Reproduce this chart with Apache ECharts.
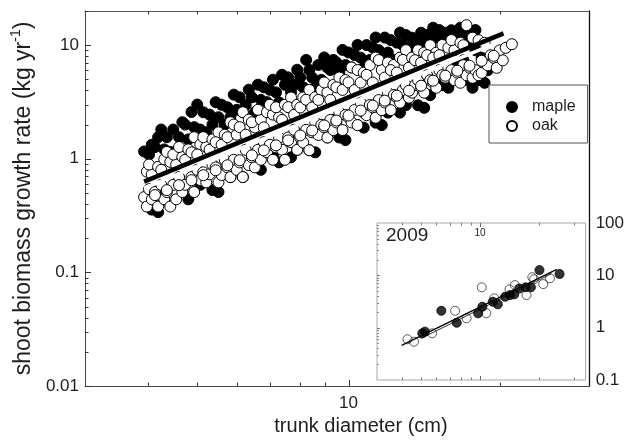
<!DOCTYPE html>
<html><head><meta charset="utf-8">
<script src="https://cdn.jsdelivr.net/npm/echarts@6/dist/echarts.min.js"></script>
<style>html,body{margin:0;padding:0;background:#fff}#c{width:627px;height:448px}</style>
</head><body><div id="c"></div>
<script>
// ---------- main panel data (trunk diameter cm, shoot biomass growth kg/yr) ----------
const mapleX = [3.93,4.02,4.07,4.07,4.13,4.19,4.19,4.25,4.31,4.31,4.36,4.43,4.49,4.61,4.68,4.74,4.81,4.81,4.88,4.94,5.01,5.08,5.08,5.15,5.22,5.30,5.37,5.37,5.45,5.52,5.52,5.60,5.68,5.75,5.83,5.83,5.92,6.00,6.08,6.17,6.17,6.25,6.34,6.43,6.52,6.52,6.61,6.70,6.70,6.79,6.89,6.98,7.08,7.08,7.18,7.28,7.28,7.38,7.48,7.59,7.69,7.69,7.80,7.91,7.91,8.02,8.13,8.24,8.36,8.36,8.47,8.59,8.59,8.71,8.83,8.95,9.08,9.08,9.20,9.33,9.33,9.46,9.59,9.59,9.73,9.86,9.86,10.0,10.14,10.28,10.42,10.42,10.57,10.72,10.72,10.86,11.02,11.17,11.32,11.32,11.48,11.64,11.64,11.80,11.97,11.97,12.13,12.30,12.47,12.65,12.65,12.82,13.00,13.00,13.18,13.37,13.55,13.74,13.74,13.93,14.13,14.13,14.32,14.52,14.52,14.72,14.93,15.14,15.35,15.35,15.56,15.78,15.78,16.00,16.22,16.22,16.44,16.67,16.67,16.90,17.14,17.14,16.90,17.38,17.62,17.62,17.86,17.86,18.11,18.37,18.62,18.88];
const mapleY = [1.16,1.09,1.33,0.357,1.27,1.55,0.339,1.81,1.21,0.437,1.55,1.15,1.81,1.55,2.10,2.00,1.48,0.44,2.58,1.90,3.0,1.81,0.59,2.57,1.71,2.45,2.00,0.53,3.15,2.32,0.51,2.99,2.0,2.84,2.33,0.69,3.67,2.70,3.48,2.57,0.69,2.98,4.06,3.48,2.57,0.93,4.49,3.30,0.80,4.26,3.15,4.05,4.97,1.08,3.84,3.14,0.93,5.49,4.48,5.21,3.85,1.03,4.47,6.08,1.20,5.21,4.26,7.42,6.06,1.19,5.19,4.25,1.14,6.70,4.95,7.81,6.37,1.54,6.05,7.42,2.20,7.05,5.76,1.54,9.09,6.69,1.46,8.63,6.37,8.19,10.05,1.98,7.77,6.35,1.88,10.03,7.41,9.53,11.69,2.08,9.04,7.40,1.98,11.67,8.62,2.55,11.09,7.39,10.53,12.91,2.55,10.03,12.27,2.97,9.51,11.63,11.09,9.04,2.96,12.87,10.52,2.81,12.27,9.07,3.63,14.24,11.64,13.58,11.07,4.44,12.89,10.56,4.22,13.55,12.25,6.66,11.68,14.26,5.17,13.55,11.07,4.92,7.37,12.93,10.52,4.22,13.6,9.03,4.91,7.75,4.66,6.01];
const oakX = [3.98,3.93,3.98,4.07,4.02,4.02,4.07,4.19,4.13,4.19,4.31,4.25,4.25,4.31,4.43,4.36,4.36,4.43,4.55,4.49,4.49,4.55,4.68,4.61,4.61,4.68,4.81,4.74,4.74,4.94,4.88,4.88,4.94,5.08,5.01,5.01,5.08,5.22,5.15,5.15,5.22,5.37,5.30,5.30,5.37,5.52,5.45,5.45,5.52,5.68,5.60,5.60,5.68,5.83,5.75,5.75,5.83,6.00,5.92,5.92,6.00,6.17,6.08,6.08,6.17,6.34,6.25,6.25,6.34,6.52,6.43,6.43,6.52,6.70,6.61,6.61,6.70,6.89,6.79,6.79,6.89,7.08,6.98,6.98,7.08,7.28,7.18,7.18,7.28,7.48,7.38,7.38,7.48,7.69,7.59,7.59,7.69,7.91,7.80,7.80,7.91,8.13,8.02,8.02,8.13,8.36,8.24,8.24,8.36,8.59,8.47,8.47,8.59,8.83,8.71,8.71,8.83,9.08,8.95,8.95,9.08,9.33,9.20,9.20,9.33,9.59,9.46,9.46,9.59,9.86,9.73,9.73,9.86,10.14,10.0,10.0,10.14,10.42,10.28,10.28,10.42,10.72,10.57,10.57,10.72,11.02,10.86,10.86,11.02,11.32,11.17,11.17,11.32,11.64,11.48,11.48,11.64,11.97,11.80,11.80,11.97,12.30,12.13,12.13,12.30,12.65,12.47,12.47,12.65,13.00,12.82,12.82,13.00,13.37,13.18,13.18,13.37,13.74,13.55,13.55,13.74,14.13,13.93,13.93,14.13,14.52,14.32,14.32,14.52,14.93,14.72,14.72,14.93,15.35,15.14,15.14,15.35,15.78,15.56,15.78,16.22,16.00,16.00,16.22,16.67,16.44,16.67,17.14,16.90,16.90,17.14,17.62,17.38,17.62,18.11,17.86,18.11,18.62,18.37,18.62,18.88,19.14,19.41,19.68,19.95,20.23,20.51,21.09,
  4.13,4.36,4.61,4.88,5.15,5.45,5.75,6.08,6.43,6.79,7.18,7.59,8.02,8.47,8.95,9.46,10.0,10.57,11.17,11.80,12.47,13.18,13.93,14.72,15.56,16.44,17.38,18.37,19.41];
const oakY = [0.77,0.46,0.38,0.73,0.89,0.54,0.44,0.85,0.51,0.38,0.99,0.80,0.59,0.44,0.94,1.15,0.51,0.38,0.89,1.09,0.59,0.44,1.04,1.27,0.69,0.51,1.21,0.98,0.59,1.55,1.14,0.69,0.51,1.34,1.09,0.80,0.65,1.27,1.55,0.76,0.62,1.48,1.20,0.73,0.89,1.71,1.40,0.84,0.62,1.63,1.33,0.72,0.98,2.10,1.55,0.84,0.69,1.63,2.0,0.98,0.80,2.57,1.90,0.93,0.69,2.21,1.63,1.20,0.88,1.89,2.10,1.03,0.84,2.21,2.70,1.20,0.98,2.57,1.89,1.40,1.14,2.45,2.99,1.33,0.98,2.32,2.84,1.26,1.54,2.99,2.20,1.20,0.98,3.47,2.85,1.54,1.40,2.99,2.44,1.80,1.20,3.47,2.83,1.54,1.39,4.04,3.31,1.80,1.19,3.48,2.83,1.71,2.09,4.04,3.30,1.62,1.99,3.85,4.70,1.89,1.54,4.47,3.30,2.20,1.79,5.20,4.26,2.09,2.56,4.94,4.04,1.79,2.43,6.37,4.71,2.31,2.09,6.04,4.03,2.69,1.98,5.74,4.69,3.12,2.55,6.68,5.48,2.42,2.97,7.79,4.69,2.83,2.30,6.06,7.40,3.29,2.68,7.03,5.19,3.13,3.82,6.70,6.04,2.68,3.64,7.78,5.74,3.46,3.12,9.05,7.42,4.02,4.45,7.79,6.34,3.45,3.82,9.04,7.38,4.45,4.92,8.62,7.02,4.23,3.82,10.0,8.17,5.44,4.92,8.59,7.76,4.68,4.22,10.04,8.17,6.02,5.45,9.51,5.18,6.33,9.04,11.10,6.03,4.92,10.52,5.73,4.67,15.0,10.0,6.67,5.44,11.64,6.34,5.17,11.07,6.02,5.44,10.5,5.71,7.00,6.65,8.15,7.74,6.32,9.02,7.36,9.48,10.2,
  0.479,0.530,0.586,0.648,0.717,0.793,0.877,0.971,1.073,1.187,1.313,1.453,1.606,1.776,1.965,2.174,2.404,2.657,2.940,3.252,3.598,3.977,4.399,4.868,5.387,5.961,6.597,7.287,8.057];
const mapleFitX = [3.93, 20.3];
const mapleFitY = [0.63, 12.7];
const oakFitX = [3.93, 19.9];
const oakFitY = [0.552, 10.7];

// ---------- inset (2009) data ----------
const insetMapleX = [5.09,5.25,6.36,7.61,9.77,10.27,11.6,12.3,13.4,14.2,14.9,15.8,17.0,18.1,20.0,25.3];
const insetMapleY = [0.78,0.84,2.10,1.24,1.88,2.51,3.13,2.79,3.90,4.20,4.33,5.6,5.9,5.9,12.6,10.6];
const insetOakX = [4.28,4.62,5.71,7.47,8.54,10.2,10.75,11.8,14.1,15.0,17.2,18.8,20.9,22.6,18.4];
const insetOakY = [0.60,0.54,0.78,2.10,1.51,5.9,1.88,3.63,5.40,6.5,4.2,8.4,6.8,8.8,9.2];
const insetFit1X = [4.0, 24.5];
const insetFit1Y = [0.46, 13.0];
const insetFit2X = [5.0, 23.0];
const insetFit2Y = [0.62, 10.7];

// ---------- ticks / labels ----------
const mainXLabels = [10];
const mainXMinorTicks = [4,5,6,7,8,9,20];
const mainYLabels = [0.01, 0.1, 1, 10];
const mainYMinorTicks = [0.02,0.03,0.04,0.05,0.06,0.07,0.08,0.09,0.2,0.3,0.4,0.5,0.6,0.7,0.8,0.9,2,3,4,5,6,7,8,9,20];
const insetXLabels = [10];
const insetXMinorTicks = [4,5,6,7,8,9,20,30];
const insetYLabels = [0.1, 1, 10, 100];
const insetYMinorTicks = [0.2,0.3,0.4,0.5,0.6,0.7,0.8,0.9,2,3,4,5,6,7,8,9,20,30,40,50,60,70,80,90];

const MAIN_X = [3, 30], MAIN_Y = [0.01, 20], INSET_X = [3, 34.3], INSET_Y = [0.1, 100];

const FONT = '"Liberation Sans", Arial, sans-serif';
const TXT = '#1e1e1e';
const zip = (xs, ys) => xs.map((x, i) => [x, ys[i]]);
const fmt = v => String(+v);

function logAxis(o) {
  return Object.assign({
    type: 'log', logBase: 10, splitLine: {show: false}, axisPointer: {show: false},
    axisLine: {show: false, onZero: false},
    axisTick: {show: false},
    axisLabel: {show: false},
  }, o);
}
// tick marks drawn through the axes' own scales
function ticks(xi, yi, pts, dx, dy, color) {
  return {
    type: 'custom', xAxisIndex: xi, yAxisIndex: yi, silent: true, clip: false, z: 10,
    data: pts,
    renderItem: (params, api) => {
      const p = api.coord([api.value(0), api.value(1)]);
      const x = dx === 0 ? Math.round(p[0]) + 0.5 : p[0];
      const y = dy === 0 ? Math.round(p[1]) + 0.5 : p[1];
      return {type: 'line', shape: {x1: x, y1: y, x2: x + dx, y2: y + dy}, style: {stroke: color, lineWidth: 1}};
    }
  };
}
const atX = (vals, y) => vals.map(v => [v, y]);
const atY = (vals, x) => vals.map(v => [x, v]);

const chart = echarts.init(document.getElementById('c'));
chart.setOption({
  animation: false,
  backgroundColor: '#fff',
  textStyle: {fontFamily: FONT},
  grid: [
    {left: 85, top: 11, width: 504, height: 375, containLabel: false},
    {left: 377, top: 223, width: 212, height: 157, show: true, backgroundColor: '#fff', borderColor: '#a8a8a8', borderWidth: 1}
  ],
  title: {text: '2009', left: 386, top: 226, padding: 0, textStyle: {fontSize: 19, fontWeight: 'normal', color: TXT, fontFamily: FONT}},
  legend: {
    data: ['maple', 'oak'], orient: 'vertical', left: 489, top: 85,
    padding: [14, 12, 9, 17], itemGap: 3, itemWidth: 30, itemHeight: 10, symbolKeepAspect: true,
    borderColor: '#555', borderWidth: 1, backgroundColor: '#fff',
    textStyle: {fontSize: 16, color: TXT, fontFamily: FONT}, selectedMode: false
  },
  xAxis: [
    logAxis({gridIndex: 0, min: MAIN_X[0], max: MAIN_X[1], position: 'bottom',
      axisLine: {show: true, onZero: false, lineStyle: {color: '#444', width: 1}},
      axisLabel: {show: true, customValues: mainXLabels, formatter: fmt, fontSize: 17, margin: 9, color: TXT, fontFamily: FONT},
      name: 'trunk diameter (cm)', nameLocation: 'middle', nameGap: 29,
      nameTextStyle: {fontSize: 20, color: TXT, fontFamily: FONT, padding: [0, 0, 0, 48]}}),
    logAxis({gridIndex: 0, min: MAIN_X[0], max: MAIN_X[1], position: 'top',
      axisLine: {show: true, onZero: false, lineStyle: {color: '#555', width: 1}}}),
    logAxis({gridIndex: 1, min: INSET_X[0], max: INSET_X[1], position: 'bottom'}),
    logAxis({gridIndex: 1, min: INSET_X[0], max: INSET_X[1], position: 'top',
      axisLabel: {show: true, inside: true, customValues: insetXLabels, formatter: fmt, fontSize: 10, margin: 5, color: TXT, fontFamily: FONT}})
  ],
  yAxis: [
    logAxis({gridIndex: 0, min: MAIN_Y[0], max: MAIN_Y[1], position: 'left',
      axisLine: {show: true, onZero: false, lineStyle: {color: '#444', width: 1}},
      axisLabel: {show: true, customValues: mainYLabels, formatter: fmt, fontSize: 17, margin: 6, color: TXT, fontFamily: FONT},
      name: '{a|shoot biomass growth rate (kg yr}{s|-1}{a|)}', nameLocation: 'middle', nameGap: 47, nameRotate: 90,
      nameTextStyle: {color: TXT, fontFamily: FONT, rich: {
        a: {fontSize: 23, lineHeight: 28, color: TXT, fontFamily: FONT},
        s: {fontSize: 14, lineHeight: 15, verticalAlign: 'top', color: TXT, fontFamily: FONT}}}}),
    logAxis({gridIndex: 0, min: MAIN_Y[0], max: MAIN_Y[1], position: 'right',
      axisLine: {show: true, onZero: false, lineStyle: {color: '#111', width: 1.3}}}),
    logAxis({gridIndex: 1, min: INSET_Y[0], max: INSET_Y[1], position: 'left'}),
    logAxis({gridIndex: 1, min: INSET_Y[0], max: INSET_Y[1], position: 'right',
      axisLabel: {show: true, customValues: insetYLabels, formatter: fmt, fontSize: 17, margin: 10, color: TXT, fontFamily: FONT}})
  ],
  series: [
    {name: 'maple', type: 'scatter', xAxisIndex: 0, yAxisIndex: 0, symbol: 'circle', symbolSize: 11,
      itemStyle: {color: '#000', borderColor: '#000', borderWidth: 1, opacity: 1}, data: zip(mapleX, mapleY), silent: true, z: 2},
    {name: 'oak', type: 'scatter', xAxisIndex: 0, yAxisIndex: 0, symbol: 'circle', symbolSize: 11,
      itemStyle: {color: '#fff', borderColor: '#000', borderWidth: 1, opacity: 1}, data: zip(oakX, oakY), silent: true, z: 2},
    {name: 'oak fit', type: 'line', xAxisIndex: 0, yAxisIndex: 0, symbol: 'none', silent: true, z: 3,
      lineStyle: {color: '#fff', width: 3.5}, data: zip(oakFitX, oakFitY)},
    {name: 'maple fit', type: 'line', xAxisIndex: 0, yAxisIndex: 0, symbol: 'none', silent: true, z: 4,
      lineStyle: {color: '#000', width: 4.5}, data: zip(mapleFitX, mapleFitY)},
    {name: 'maple', type: 'scatter', xAxisIndex: 2, yAxisIndex: 2, symbol: 'circle', symbolSize: 9, z: 5,
      itemStyle: {color: '#000', borderColor: '#000', borderWidth: 1}, data: zip(insetMapleX, insetMapleY), silent: true},
    {name: 'oak', type: 'scatter', xAxisIndex: 2, yAxisIndex: 2, symbol: 'circle', symbolSize: 9, z: 5,
      itemStyle: {color: 'rgba(255,255,255,0)', borderColor: '#000', borderWidth: 0.8}, data: zip(insetOakX, insetOakY), silent: true},
    {name: 'fit 2009 a', type: 'line', xAxisIndex: 2, yAxisIndex: 2, symbol: 'none', silent: true, z: 6,
      lineStyle: {color: '#000', width: 1.3}, data: zip(insetFit1X, insetFit1Y)},
    {name: 'fit 2009 b', type: 'line', xAxisIndex: 2, yAxisIndex: 2, symbol: 'none', silent: true, z: 6,
      lineStyle: {color: '#000', width: 0.8}, data: zip(insetFit2X, insetFit2Y)},
    // main panel ticks (inward)
    ticks(0, 0, atX(mainXLabels, MAIN_Y[0]), 0, -6, '#333'),
    ticks(0, 0, atX(mainXMinorTicks, MAIN_Y[0]), 0, -3.5, '#333'),
    ticks(0, 0, atX(mainXLabels, MAIN_Y[1]), 0, 5, '#333'),
    ticks(0, 0, atX(mainXMinorTicks, MAIN_Y[1]), 0, 3.5, '#333'),
    ticks(0, 0, atY(mainYLabels, MAIN_X[0]), 6, 0, '#333'),
    ticks(0, 0, atY(mainYMinorTicks, MAIN_X[0]), 3.5, 0, '#333'),
    // inset ticks
    ticks(2, 2, atX(insetXLabels, INSET_Y[0]), 0, -4, '#666'),
    ticks(2, 2, atX(insetXMinorTicks, INSET_Y[0]), 0, -2.5, '#777'),
    ticks(2, 2, atX(insetXLabels, INSET_Y[1]), 0, 4, '#666'),
    ticks(2, 2, atX(insetXMinorTicks, INSET_Y[1]), 0, 2.5, '#777'),
    ticks(2, 2, atY(insetYMinorTicks, INSET_X[0]), 2, 0, '#888'),
    ticks(2, 2, atY([1, 10], INSET_X[0]), 3, 0, '#777')
  ]
});
</script>
</body></html>
